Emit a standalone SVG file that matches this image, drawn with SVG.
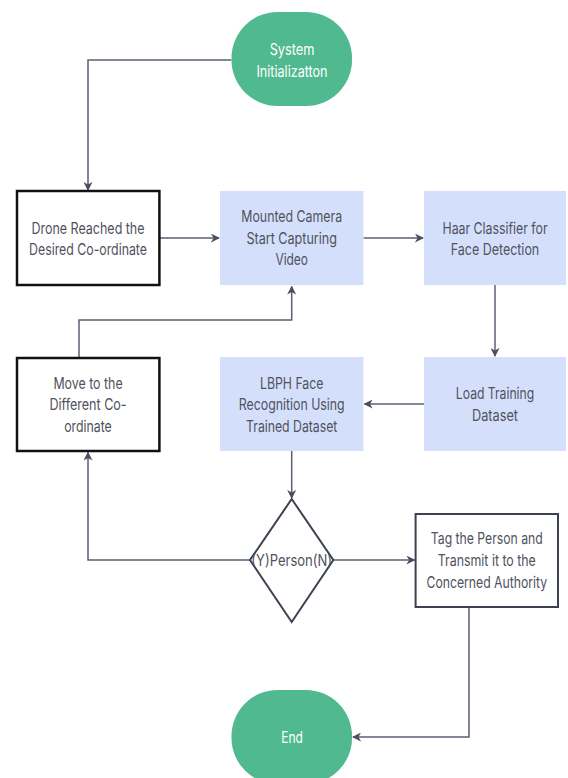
<svg xmlns="http://www.w3.org/2000/svg" width="568" height="778" viewBox="0 0 568 778">
<defs>
<marker id="ah" viewBox="0 0 10 10" refX="9" refY="5" markerWidth="9" markerHeight="9" markerUnits="userSpaceOnUse" orient="auto">
<path d="M0,0 L10,5 L0,10 L3,5 Z" fill="#4a4f5e"/>
</marker>
<style>
.t{font-family:Inter,"Liberation Sans",sans-serif;font-size:16px;text-anchor:middle;dominant-baseline:central;fill:#50525d}
.w{fill:#ffffff}
.term{fill:#50b98f}
.proc{fill:#d4e0fb}
.blk{fill:#ffffff;stroke:#111111;stroke-width:2.5}
.tag{fill:#ffffff;stroke:#3d4250;stroke-width:2}
.dia{fill:#ffffff;stroke:#3d4250;stroke-width:2}
.c{fill:none;stroke:#5b6070;stroke-width:1.5;marker-end:url(#ah)}
</style>
</defs>
<g id="connectors">
<path class="c" d="M231.5,60 H88 V190"/>
<path class="c" d="M159.5,238 H219"/>
<path class="c" d="M363.5,238 H423"/>
<path class="c" d="M495,285 V356"/>
<path class="c" d="M424,404 H364.5"/>
<path class="c" d="M79,358 V320 H291.7 V286.5"/>
<path class="c" d="M291.7,451 V498"/>
<path class="c" d="M250,560 H88 V452.5"/>
<path class="c" d="M333.3,560 H414.5"/>
<path class="c" d="M469,607 V737 H353"/>
</g>
<g id="start">
<rect class="term" x="231.5" y="12" width="120.5" height="94" rx="46" ry="46"/>
<text class="t w" transform="translate(292 49) scale(0.8 1)" textLength="55.8" lengthAdjust="spacingAndGlyphs">System</text>
<text class="t w" transform="translate(292 71) scale(0.8 1)" textLength="88.8" lengthAdjust="spacingAndGlyphs">Initializatton</text>
</g>
<g id="drone">
<rect class="blk" x="17" y="191" width="142.4" height="94"/>
<text class="t" transform="translate(88 228) scale(0.8 1)" textLength="141.3" lengthAdjust="spacingAndGlyphs">Drone Reached the</text>
<text class="t" transform="translate(88 249) scale(0.8 1)" textLength="147.3" lengthAdjust="spacingAndGlyphs">Desired Co-ordinate</text>
</g>
<g id="camera">
<rect class="proc" x="220" y="191" width="143.4" height="94"/>
<text class="t" transform="translate(291.7 216) scale(0.8 1)" textLength="125.9" lengthAdjust="spacingAndGlyphs">Mounted Camera</text>
<text class="t" transform="translate(291.7 238) scale(0.8 1)" textLength="113.3" lengthAdjust="spacingAndGlyphs">Start Capturing</text>
<text class="t" transform="translate(291.7 259) scale(0.8 1)" textLength="40.8" lengthAdjust="spacingAndGlyphs">Video</text>
</g>
<g id="haar">
<rect class="proc" x="424" y="191" width="142" height="94"/>
<text class="t" transform="translate(495 228) scale(0.8 1)" textLength="131.3" lengthAdjust="spacingAndGlyphs">Haar Classifier for</text>
<text class="t" transform="translate(495 249) scale(0.8 1)" textLength="110.5" lengthAdjust="spacingAndGlyphs">Face Detection</text>
</g>
<g id="move">
<rect class="blk" x="17" y="358" width="142.4" height="93"/>
<text class="t" transform="translate(88 383) scale(0.8 1)" textLength="86.5" lengthAdjust="spacingAndGlyphs">Move to the</text>
<text class="t" transform="translate(88 404) scale(0.8 1)" textLength="96.5" lengthAdjust="spacingAndGlyphs">Different Co-</text>
<text class="t" transform="translate(88 426) scale(0.8 1)" textLength="59.4" lengthAdjust="spacingAndGlyphs">ordinate</text>
</g>
<g id="lbph">
<rect class="proc" x="220" y="357" width="143.4" height="94"/>
<text class="t" transform="translate(291.7 383) scale(0.8 1)" textLength="79.3" lengthAdjust="spacingAndGlyphs">LBPH Face</text>
<text class="t" transform="translate(291.7 404) scale(0.8 1)" textLength="132.3" lengthAdjust="spacingAndGlyphs">Recognition Using</text>
<text class="t" transform="translate(291.7 426) scale(0.8 1)" textLength="114.1" lengthAdjust="spacingAndGlyphs">Trained Dataset</text>
</g>
<g id="load">
<rect class="proc" x="424" y="357" width="142" height="94"/>
<text class="t" transform="translate(495 393) scale(0.8 1)" textLength="97.9" lengthAdjust="spacingAndGlyphs">Load Training</text>
<text class="t" transform="translate(495 415) scale(0.8 1)" textLength="57.5" lengthAdjust="spacingAndGlyphs">Dataset</text>
</g>
<g id="decision">
<polygon class="dia" points="291.7,499 333.3,560 291.7,622 250,560"/>
<text class="t" transform="translate(291.7 560) scale(0.8 1)" textLength="101" lengthAdjust="spacingAndGlyphs">(Y)Person(N)</text>
</g>
<g id="tag">
<rect class="tag" x="415.6" y="514" width="142.4" height="93"/>
<text class="t" transform="translate(486.8 538) scale(0.8 1)" textLength="140" lengthAdjust="spacingAndGlyphs">Tag the Person and</text>
<text class="t" transform="translate(486.8 560) scale(0.8 1)" textLength="122.5" lengthAdjust="spacingAndGlyphs">Transmit it to the</text>
<text class="t" transform="translate(486.8 582) scale(0.8 1)" textLength="150.9" lengthAdjust="spacingAndGlyphs">Concerned Authority</text>
</g>
<g id="end">
<rect class="term" x="231.5" y="690" width="120.5" height="94" rx="46" ry="46"/>
<text class="t w" transform="translate(292 737) scale(0.8 1)" textLength="27.1" lengthAdjust="spacingAndGlyphs">End</text>
</g>
</svg>
